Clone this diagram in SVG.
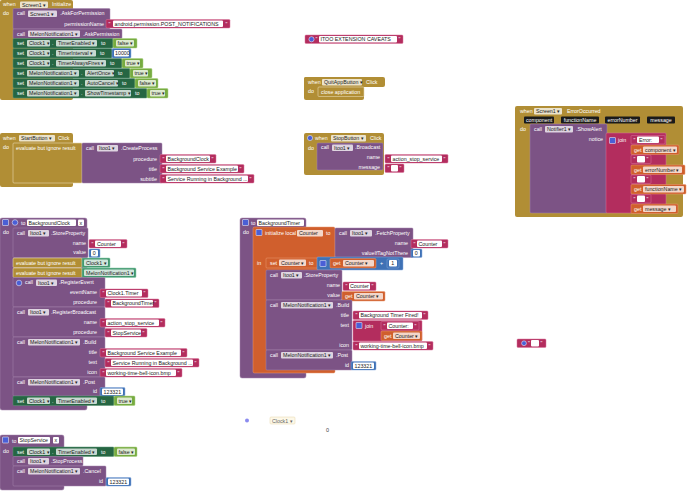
<svg xmlns="http://www.w3.org/2000/svg" width="690" height="491" viewBox="0 0 690 491">
<style>
text{font-family:"Liberation Sans",Arial,sans-serif;font-size:5.3px;fill:#fff}
.k{fill:#222}.e{text-anchor:end}.c{text-anchor:middle}
.ev{fill:#b18e35}
.evi{fill:#b18e35;stroke:#e8d9b0;stroke-width:.6}
.pu{fill:#7c5385;stroke:#a587ad;stroke-width:.5}
.gr{fill:#266643;stroke:#5a9474;stroke-width:.5}
.pk{fill:#b32d5e;stroke:#d8779c;stroke-width:.5}
.bl{fill:#3f71b5;stroke:#86a8dc;stroke-width:.5}
.lg{fill:#77ab41;stroke:#a9d080;stroke-width:.5}
.or{fill:#d05f2d;stroke:#eb9a72;stroke-width:.5}
.tl{fill:#439970;stroke:#86c7a6;stroke-width:.5}
.dd{fill:#fff;fill-opacity:.75}
.fd{fill:#fff}
.bk{fill:#1a1a1a}
.ic{fill:#4a5fd6;stroke:#fff;stroke-width:.5}
</style>
<g id="connectors"/>

<g id="screen1-initialize">
<rect class="ev" x="0" y="0" width="73" height="100" rx="2"/>
<text x="3" y="6">when</text>
<rect class="dd" x="20" y="1.5" width="28" height="6.5" rx="1"/><text class="k" x="22" y="6.5">Screen1 ▾</text>
<text x="52" y="6">Initialize</text>
<text x="3" y="15">do</text>
<rect class="pu" x="13" y="8.5" width="97" height="20.5" rx="1"/>
<text x="17" y="15">call</text>
<rect class="dd" x="28" y="10.5" width="29" height="6.5" rx="1"/><text class="k" x="30" y="15.5">Screen1 ▾</text>
<text x="60" y="15">.AskForPermission</text>
<text class="e" x="104" y="26">permissionName</text>
<rect class="pk" x="106" y="19.5" width="124" height="8.5" rx="1"/>
<text x="108.5" y="25.5">"</text>
<rect class="fd" x="113" y="20.5" width="110" height="6.5" rx="1"/><text class="k" x="114.5" y="25.7">android.permission.POST_NOTIFICATIONS</text>
<text x="225.5" y="25.5">"</text>
<rect class="pu" x="13" y="29" width="109" height="9.5" rx="1"/>
<text x="17" y="35.5">call</text>
<rect class="dd" x="28" y="30.5" width="52" height="6.5" rx="1"/><text class="k" x="30" y="35.5">MelonNotification1 ▾</text>
<text x="83" y="35.5">.AskPermission</text>

<rect class="gr" x="13" y="38.5" width="100" height="9.5" rx="1"/>
<text x="17" y="45">set</text>
<rect class="dd" x="27" y="40" width="23" height="6.5" rx="1"/><text class="k" x="29" y="45">Clock1 ▾</text>
<text x="52" y="45">.</text>
<rect class="dd" x="56" y="40" width="41" height="6.5" rx="1"/><text class="k" x="58" y="45">TimerEnabled ▾</text>
<text x="101" y="45">to</text>
<rect class="lg" x="113" y="38.5" width="24" height="9.5" rx="1"/>
<rect class="dd" x="116" y="40" width="18" height="6.5" rx="1"/><text class="k" x="117.5" y="45">false ▾</text>

<rect class="gr" x="13" y="48.5" width="99" height="9.5" rx="1"/>
<text x="17" y="55">set</text>
<rect class="dd" x="27" y="50" width="23" height="6.5" rx="1"/><text class="k" x="29" y="55">Clock1 ▾</text>
<text x="52" y="55">.</text>
<rect class="dd" x="56" y="50" width="40" height="6.5" rx="1"/><text class="k" x="58" y="55">TimerInterval ▾</text>
<text x="100" y="55">to</text>
<rect class="bl" x="112" y="48.5" width="19" height="9.5" rx="1"/>
<rect class="fd" x="114" y="50" width="15" height="6.5" rx="1"/><text class="k" x="115" y="55">10000</text>

<rect class="gr" x="13" y="58.5" width="109" height="9.5" rx="1"/>
<text x="17" y="65">set</text>
<rect class="dd" x="27" y="60" width="23" height="6.5" rx="1"/><text class="k" x="29" y="65">Clock1 ▾</text>
<text x="52" y="65">.</text>
<rect class="dd" x="56" y="60" width="50" height="6.5" rx="1"/><text class="k" x="58" y="65">TimerAlwaysFires ▾</text>
<text x="110" y="65">to</text>
<rect class="lg" x="122" y="58.5" width="21" height="9.5" rx="1"/>
<rect class="dd" x="125" y="60" width="15" height="6.5" rx="1"/><text class="k" x="126.5" y="65">true ▾</text>

<rect class="gr" x="13" y="68.5" width="117" height="9.5" rx="1"/>
<text x="17" y="75">set</text>
<rect class="dd" x="27" y="70" width="52" height="6.5" rx="1"/><text class="k" x="29" y="75">MelonNotification1 ▾</text>
<text x="81" y="75">.</text>
<rect class="dd" x="85" y="70" width="29" height="6.5" rx="1"/><text class="k" x="87" y="75">AlertOnce ▾</text>
<text x="118" y="75">to</text>
<rect class="lg" x="130" y="68.5" width="22" height="9.5" rx="1"/>
<rect class="dd" x="133" y="70" width="15" height="6.5" rx="1"/><text class="k" x="134.5" y="75">true ▾</text>

<rect class="gr" x="13" y="78.5" width="122" height="9.5" rx="1"/>
<text x="17" y="85">set</text>
<rect class="dd" x="27" y="80" width="52" height="6.5" rx="1"/><text class="k" x="29" y="85">MelonNotification1 ▾</text>
<text x="81" y="85">.</text>
<rect class="dd" x="85" y="80" width="33" height="6.5" rx="1"/><text class="k" x="87" y="85">AutoCancel ▾</text>
<text x="122" y="85">to</text>
<rect class="lg" x="135" y="78.5" width="23" height="9.5" rx="1"/>
<rect class="dd" x="138" y="80" width="18" height="6.5" rx="1"/><text class="k" x="139.5" y="85">false ▾</text>

<rect class="gr" x="13" y="88.5" width="134" height="9.5" rx="1"/>
<text x="17" y="95">set</text>
<rect class="dd" x="27" y="90" width="52" height="6.5" rx="1"/><text class="k" x="29" y="95">MelonNotification1 ▾</text>
<text x="81" y="95">.</text>
<rect class="dd" x="85" y="90" width="46" height="6.5" rx="1"/><text class="k" x="87" y="95">ShowTimestamp ▾</text>
<text x="135" y="95">to</text>
<rect class="lg" x="147" y="88.5" width="21" height="9.5" rx="1"/>
<rect class="dd" x="150" y="90" width="15" height="6.5" rx="1"/><text class="k" x="151.5" y="95">true ▾</text>
</g>

<g id="startbutton-click">
<rect class="ev" x="0" y="133" width="73" height="54" rx="2"/>
<text x="3" y="140">when</text>
<rect class="dd" x="19" y="135" width="36" height="6.5" rx="1"/><text class="k" x="21" y="140">StartButton ▾</text>
<text x="58" y="140">Click</text>
<text x="3" y="149">do</text>
<rect class="evi" x="13" y="143" width="69" height="40" rx="1"/>
<text x="16" y="149.5">evaluate but ignore result</text>
<rect class="pu" x="82" y="143" width="80" height="40" rx="1"/>
<text x="86" y="149.5">call</text>
<rect class="dd" x="97" y="145" width="21" height="6.5" rx="1"/><text class="k" x="99" y="150">Itoo1 ▾</text>
<text x="121" y="149.5">.CreateProcess</text>
<text class="e" x="157" y="160.5">procedure</text>
<text class="e" x="157" y="170.5">title</text>
<text class="e" x="157" y="180.5">subtitle</text>
<rect class="pk" x="160" y="154.5" width="56" height="8.5" rx="1"/><text x="162.5" y="160.5">"</text><rect class="fd" x="166" y="155.5" width="44" height="6.5" rx="1"/><text class="k" x="167.5" y="160.7">BackgroundClock</text><text x="211.5" y="160.5">"</text>
<rect class="pk" x="160" y="164.5" width="84" height="8.5" rx="1"/><text x="162.5" y="170.5">"</text><rect class="fd" x="166" y="165.5" width="72" height="6.5" rx="1"/><text class="k" x="167.5" y="170.7">Background Service Example</text><text x="239.5" y="170.5">"</text>
<rect class="pk" x="160" y="174.5" width="94" height="8.5" rx="1"/><text x="162.5" y="180.5">"</text><rect class="fd" x="166" y="175.5" width="82" height="6.5" rx="1"/><text class="k" x="167.5" y="180.7">Service Running in Background ...</text><text x="249.5" y="180.5">"</text>
</g>

<g id="proc-backgroundclock">
<rect class="pu" x="0" y="218" width="87" height="192" rx="2"/>
<rect class="ic" x="2.5" y="219.5" width="6" height="6" rx=".5"/>
<circle class="ic" cx="15" cy="222.5" r="2.8"/>
<text x="21" y="225">to</text>
<rect class="fd" x="27" y="219.5" width="49" height="6.5" rx="1"/><text class="k" x="28.5" y="224.7">BackgroundClock</text>
<rect class="fd" x="78" y="219.5" width="6" height="6.5" rx="1"/><text class="k" x="79.5" y="224.7">x</text>
<text x="3" y="234">do</text>
<rect class="pu" x="13" y="228" width="75" height="29.5" rx="1"/>
<text x="17" y="234.5">call</text>
<rect class="dd" x="28" y="230" width="21" height="6.5" rx="1"/><text class="k" x="30" y="235">Itoo1 ▾</text>
<text x="51" y="234.5">.StoreProperty</text>
<text class="e" x="86" y="245">name</text>
<text class="e" x="86" y="254">value</text>
<rect class="pk" x="89" y="239.5" width="38" height="8.5" rx="1"/><text x="91.5" y="245.5">"</text><rect class="fd" x="95" y="240.5" width="26" height="6.5" rx="1"/><text class="k" x="97" y="245.7">Counter</text><text x="122.5" y="245.5">"</text>
<rect class="bl" x="89" y="249" width="11" height="8.5" rx="1"/><rect class="fd" x="91" y="250" width="7" height="6.5" rx="1"/><text class="k" x="92.8" y="255.2">0</text>
<rect class="evi" x="13" y="258" width="69" height="9.5" rx="1"/><text x="16" y="264.5">evaluate but ignore result</text>
<rect class="tl" x="82" y="258" width="28" height="9.5" rx="1"/><rect class="dd" x="84" y="259.5" width="24" height="6.5" rx="1"/><text class="k" x="86" y="264.5">Clock1 ▾</text>
<rect class="evi" x="13" y="268" width="69" height="9.5" rx="1"/><text x="16" y="274.5">evaluate but ignore result</text>
<rect class="tl" x="82" y="268" width="54" height="9.5" rx="1"/><rect class="dd" x="84" y="269.5" width="50" height="6.5" rx="1"/><text class="k" x="86" y="274.5">MelonNotification1 ▾</text>
<rect class="pu" x="13" y="277.5" width="92" height="29.5" rx="1"/>
<circle class="ic" cx="19" cy="283" r="2.8"/>
<text x="25" y="284">call</text>
<rect class="dd" x="36" y="279.5" width="21" height="6.5" rx="1"/><text class="k" x="38" y="284.5">Itoo1 ▾</text>
<text x="59" y="284">.RegisterEvent</text>
<text class="e" x="97" y="294">eventName</text>
<text class="e" x="97" y="304">procedure</text>
<rect class="pk" x="100" y="289" width="48" height="8.5" rx="1"/><text x="102.5" y="295">"</text><rect class="fd" x="106" y="290" width="36" height="6.5" rx="1"/><text class="k" x="107.5" y="295.2">Clock1.Timer</text><text x="143.5" y="295">"</text>
<rect class="pk" x="105" y="299" width="54" height="8.5" rx="1"/><text x="107.5" y="305">"</text><rect class="fd" x="111" y="300" width="42" height="6.5" rx="1"/><text class="k" x="112.5" y="305.2">BackgroundTimer</text><text x="154.5" y="305">"</text>
<rect class="pu" x="13" y="307" width="92" height="30" rx="1"/>
<text x="17" y="313.5">call</text>
<rect class="dd" x="28" y="309" width="21" height="6.5" rx="1"/><text class="k" x="30" y="314">Itoo1 ▾</text>
<text x="51" y="313.5">.RegisterBroadcast</text>
<text class="e" x="97" y="324">name</text>
<text class="e" x="97" y="334">procedure</text>
<rect class="pk" x="100" y="318.5" width="65" height="8.5" rx="1"/><text x="102.5" y="324.5">"</text><rect class="fd" x="106" y="319.5" width="53" height="6.5" rx="1"/><text class="k" x="107.5" y="324.7">action_stop_service</text><text x="160.5" y="324.5">"</text>
<rect class="pk" x="105" y="328.5" width="42" height="8.5" rx="1"/><text x="107.5" y="334.5">"</text><rect class="fd" x="111" y="329.5" width="30" height="6.5" rx="1"/><text class="k" x="112.5" y="334.7">StopService</text><text x="142.5" y="334.5">"</text>
<rect class="pu" x="13" y="337" width="92" height="40" rx="1"/>
<text x="17" y="343.5">call</text>
<rect class="dd" x="28" y="339" width="52" height="6.5" rx="1"/><text class="k" x="30" y="344">MelonNotification1 ▾</text>
<text x="83" y="343.5">.Build</text>
<text class="e" x="97" y="353.5">title</text>
<text class="e" x="97" y="363.5">text</text>
<text class="e" x="97" y="373.5">icon</text>
<rect class="pk" x="100" y="348.5" width="87" height="8.5" rx="1"/><text x="102.5" y="354.5">"</text><rect class="fd" x="106" y="349.5" width="75" height="6.5" rx="1"/><text class="k" x="107.5" y="354.7">Background Service Example</text><text x="182.5" y="354.5">"</text>
<rect class="pk" x="105" y="358.5" width="94" height="8.5" rx="1"/><text x="107.5" y="364.5">"</text><rect class="fd" x="111" y="359.5" width="82" height="6.5" rx="1"/><text class="k" x="112.5" y="364.7">Service Running in Background ...</text><text x="194.5" y="364.5">"</text>
<rect class="pk" x="100" y="368.5" width="82" height="8.5" rx="1"/><text x="102.5" y="374.5">"</text><rect class="fd" x="106" y="369.5" width="70" height="6.5" rx="1"/><text class="k" x="107.5" y="374.7">working-time-bell-icon.bmp</text><text x="177.5" y="374.5">"</text>
<rect class="pu" x="13" y="377" width="92" height="19" rx="1"/>
<text x="17" y="383.5">call</text>
<rect class="dd" x="28" y="379" width="52" height="6.5" rx="1"/><text class="k" x="30" y="384">MelonNotification1 ▾</text>
<text x="83" y="383.5">.Post</text>
<text class="e" x="97" y="393">id</text>
<rect class="bl" x="100" y="387.5" width="25" height="8.5" rx="1"/><rect class="fd" x="102" y="388.5" width="21" height="6.5" rx="1"/><text class="k" x="103.5" y="393.7">123321</text>
<rect class="gr" x="13" y="396" width="101" height="9.5" rx="1"/>
<text x="17" y="402.5">set</text>
<rect class="dd" x="27" y="397.5" width="23" height="6.5" rx="1"/><text class="k" x="29" y="402.5">Clock1 ▾</text>
<text x="52" y="402.5">.</text>
<rect class="dd" x="56" y="397.5" width="41" height="6.5" rx="1"/><text class="k" x="58" y="402.5">TimerEnabled ▾</text>
<text x="101" y="402.5">to</text>
<rect class="lg" x="114" y="396" width="21" height="9.5" rx="1"/>
<rect class="dd" x="117" y="397.5" width="15" height="6.5" rx="1"/><text class="k" x="118.5" y="402.5">true ▾</text>
</g>

<g id="proc-stopservice">
<rect class="pu" x="0" y="435" width="64" height="55" rx="2"/>
<rect class="ic" x="2.5" y="437" width="6" height="6" rx=".5"/>
<text x="12" y="442.5">to</text>
<rect class="fd" x="18" y="437" width="32" height="6.5" rx="1"/><text class="k" x="19.5" y="442.2">StopService</text>
<rect class="fd" x="53" y="437" width="6" height="6.5" rx="1"/><text class="k" x="54.5" y="442.2">x</text>
<text x="3" y="453">do</text>
<rect class="gr" x="13" y="447" width="101" height="9.5" rx="1"/>
<text x="17" y="453.5">set</text>
<rect class="dd" x="27" y="448.5" width="23" height="6.5" rx="1"/><text class="k" x="29" y="453.5">Clock1 ▾</text>
<text x="52" y="453.5">.</text>
<rect class="dd" x="56" y="448.5" width="41" height="6.5" rx="1"/><text class="k" x="58" y="453.5">TimerEnabled ▾</text>
<text x="101" y="453.5">to</text>
<rect class="lg" x="114" y="447" width="23" height="9.5" rx="1"/>
<rect class="dd" x="117" y="448.5" width="18" height="6.5" rx="1"/><text class="k" x="118.5" y="453.5">false ▾</text>
<rect class="pu" x="13" y="456.5" width="70" height="9.5" rx="1"/>
<text x="17" y="463">call</text>
<rect class="dd" x="28" y="458" width="21" height="6.5" rx="1"/><text class="k" x="30" y="463">Itoo1 ▾</text>
<text x="51" y="463">.StopProcess</text>
<rect class="pu" x="13" y="466" width="93" height="20" rx="1"/>
<text x="17" y="472.5">call</text>
<rect class="dd" x="28" y="468" width="52" height="6.5" rx="1"/><text class="k" x="30" y="473">MelonNotification1 ▾</text>
<text x="83" y="472.5">.Cancel</text>
<text class="e" x="103" y="483">id</text>
<rect class="bl" x="106" y="477.5" width="25" height="8.5" rx="1"/><rect class="fd" x="108" y="478.5" width="21" height="6.5" rx="1"/><text class="k" x="109.5" y="483.7">123321</text>
</g>

<g id="proc-backgroundtimer">
<rect class="pu" x="240" y="218" width="66" height="160" rx="2"/>
<rect class="ic" x="242.5" y="219.5" width="6" height="6" rx=".5"/>
<text x="251" y="225">to</text>
<rect class="fd" x="257" y="219.5" width="47" height="6.5" rx="1"/><text class="k" x="258.5" y="224.7">BackgroundTimer</text>
<text x="243" y="234">do</text>
<rect class="or" x="253" y="227" width="82" height="146" rx="1.5"/>
<rect class="ic" x="256" y="229.5" width="6" height="6" rx=".5"/>
<text x="265" y="235">initialize local</text>
<rect class="dd" x="297" y="230" width="26" height="6.5" rx="1"/><text class="k" x="299" y="235">Counter</text>
<text x="326" y="235">to</text>
<rect class="pu" x="335" y="228" width="78" height="29.5" rx="1"/>
<text x="339" y="234.5">call</text>
<rect class="dd" x="350" y="230" width="22" height="6.5" rx="1"/><text class="k" x="352" y="235">Itoo1 ▾</text>
<text x="375" y="234.5">.FetchProperty</text>
<text class="e" x="408" y="245">name</text>
<text class="e" x="408" y="255">valueIfTagNotThere</text>
<rect class="pk" x="411" y="239.5" width="37" height="8.5" rx="1"/><text x="413.5" y="245.5">"</text><rect class="fd" x="417" y="240.5" width="25" height="6.5" rx="1"/><text class="k" x="418.5" y="245.7">Counter</text><text x="443.5" y="245.5">"</text>
<rect class="bl" x="411" y="249" width="11" height="8.5" rx="1"/><rect class="fd" x="413" y="250" width="7" height="6.5" rx="1"/><text class="k" x="414.8" y="255.2">0</text>
<text x="257" y="265">in</text>
<rect class="or" x="266" y="258" width="52" height="10" rx="1"/>
<text x="270" y="264.5">set</text>
<rect class="dd" x="279" y="259.5" width="27" height="6.5" rx="1"/><text class="k" x="281" y="264.5">Counter ▾</text>
<text x="309" y="264.5">to</text>
<rect class="bl" x="317" y="257" width="86" height="13" rx="1"/>
<rect class="ic" x="320" y="260.5" width="6" height="6" rx=".5"/>
<rect class="or" x="330" y="258.5" width="46" height="9.5" rx="1"/>
<text x="333" y="265">get</text>
<rect class="dd" x="343" y="260" width="31" height="6.5" rx="1"/><text class="k" x="345" y="265">Counter ▾</text>
<text x="380" y="265">+</text>
<rect class="bl" x="387" y="259" width="12" height="9" rx="1"/><rect class="fd" x="389" y="260" width="8" height="6.5" rx="1"/><text class="k" x="391.3" y="265.2">1</text>
<rect class="pu" x="266" y="270" width="76" height="30" rx="1"/>
<text x="270" y="276.5">call</text>
<rect class="dd" x="281" y="272" width="21" height="6.5" rx="1"/><text class="k" x="283" y="277">Itoo1 ▾</text>
<text x="304" y="276.5">.StoreProperty</text>
<text class="e" x="340" y="287">name</text>
<text class="e" x="340" y="297">value</text>
<rect class="pk" x="343" y="282" width="33" height="8.5" rx="1"/><text x="345.5" y="288">"</text><rect class="fd" x="349" y="283" width="21" height="6.5" rx="1"/><text class="k" x="350" y="288.2">Counter</text><text x="371.5" y="288">"</text>
<rect class="or" x="342" y="291.5" width="43" height="9.5" rx="1"/>
<text x="345" y="298">get</text>
<rect class="dd" x="354" y="293" width="29" height="6.5" rx="1"/><text class="k" x="356" y="298">Counter ▾</text>
<rect class="pu" x="266" y="300" width="86" height="50" rx="1"/>
<text x="270" y="306.5">call</text>
<rect class="dd" x="281" y="302" width="52" height="6.5" rx="1"/><text class="k" x="283" y="307">MelonNotification1 ▾</text>
<text x="336" y="306.5">.Build</text>
<text class="e" x="349" y="317">title</text>
<text class="e" x="349" y="327">text</text>
<text class="e" x="349" y="347">icon</text>
<rect class="pk" x="353" y="311" width="75" height="8.5" rx="1"/><text x="355.5" y="317">"</text><rect class="fd" x="359" y="312" width="63" height="6.5" rx="1"/><text class="k" x="360.5" y="317.2">Background Timer Fired!</text><text x="423.5" y="317">"</text>
<rect class="pk" x="353" y="320.5" width="69" height="20.5" rx="1"/>
<rect class="ic" x="356" y="322.5" width="6" height="6" rx=".5"/>
<text x="365" y="328">join</text>
<rect class="pk" x="381" y="321.5" width="38" height="8.5" rx="1"/><text x="383.5" y="327.5">"</text><rect class="fd" x="387" y="322.5" width="26" height="6.5" rx="1"/><text class="k" x="388.5" y="327.7">Counter: </text><text x="414.5" y="327.5">"</text>
<rect class="or" x="381" y="331" width="41" height="9.5" rx="1"/>
<text x="384" y="337.5">get</text>
<rect class="dd" x="393" y="332.5" width="27" height="6.5" rx="1"/><text class="k" x="395" y="337.5">Counter ▾</text>
<rect class="pk" x="353" y="341.5" width="80" height="8.5" rx="1"/><text x="355.5" y="347.5">"</text><rect class="fd" x="359" y="342.5" width="68" height="6.5" rx="1"/><text class="k" x="360.5" y="347.7">working-time-bell-icon.bmp</text><text x="428.5" y="347.5">"</text>
<rect class="pu" x="266" y="350" width="86" height="20" rx="1"/>
<text x="270" y="356.5">call</text>
<rect class="dd" x="281" y="352" width="52" height="6.5" rx="1"/><text class="k" x="283" y="357">MelonNotification1 ▾</text>
<text x="336" y="356.5">.Post</text>
<text class="e" x="349" y="367">id</text>
<rect class="bl" x="351" y="361.5" width="25" height="8.5" rx="1"/><rect class="fd" x="353" y="362.5" width="21" height="6.5" rx="1"/><text class="k" x="354.5" y="367.7">123321</text>
</g>

<g id="caveats">
<rect class="pk" x="305" y="35" width="98" height="8.5" rx="1"/>
<circle class="ic" cx="311.5" cy="39.25" r="2.6"/>
<text x="315.5" y="41">"</text>
<rect class="fd" x="319" y="36" width="78" height="6.5" rx="1"/><text class="k" x="320.5" y="41.2">ITOO EXTENSION CAVEATS</text>
<text x="398.5" y="41">"</text>
</g>

<g id="quitappbutton-click">
<rect class="ev" x="304" y="77" width="81" height="10" rx="2"/>
<rect class="ev" x="304" y="77" width="60" height="23" rx="2"/>
<text x="308" y="83.5">when</text>
<rect class="dd" x="322" y="79" width="40" height="6.5" rx="1"/><text class="k" x="324" y="84">QuitAppButton ▾</text>
<text x="366" y="83.5">Click</text>
<text x="308" y="93">do</text>
<rect class="evi" x="318" y="87" width="46" height="9.5" rx="1"/>
<text x="321" y="93.5">close application</text>
</g>

<g id="stopbutton-click">
<rect class="ev" x="304" y="133" width="80" height="42" rx="2"/>
<circle class="ic" cx="310" cy="138" r="2.6"/>
<text x="315" y="140">when</text>
<rect class="dd" x="331" y="135" width="35" height="6.5" rx="1"/><text class="k" x="333" y="140">StopButton ▾</text>
<text x="370" y="140">Click</text>
<text x="308" y="150">do</text>
<rect class="pu" x="317" y="143" width="66" height="27" rx="1"/>
<text x="321" y="149">call</text>
<rect class="dd" x="332" y="144.5" width="21" height="6.5" rx="1"/><text class="k" x="334" y="149.5">Itoo1 ▾</text>
<text x="355" y="149">.Broadcast</text>
<text class="e" x="380" y="159">name</text>
<text class="e" x="380" y="169">message</text>
<rect class="pk" x="385" y="154.5" width="63" height="8.5" rx="1"/><text x="387.5" y="160.5">"</text><rect class="fd" x="391" y="155.5" width="51" height="6.5" rx="1"/><text class="k" x="392.5" y="160.7">action_stop_service</text><text x="443.5" y="160.5">"</text>
<rect class="pk" x="385" y="164" width="19" height="8.5" rx="1"/><text x="387.5" y="170">"</text><rect class="fd" x="391" y="165" width="7" height="6.5" rx="1"/><text x="399.5" y="170">"</text>
</g>

<g id="screen1-erroroccurred">
<rect class="ev" x="515" y="106" width="168" height="111" rx="2"/>
<text x="520" y="112.5">when</text>
<rect class="dd" x="534" y="108" width="28" height="6.5" rx="1"/><text class="k" x="536" y="113">Screen1 ▾</text>
<text x="567" y="112.5">ErrorOccurred</text>
<rect class="bk" x="524" y="116.5" width="30" height="7" rx="1"/><text class="c" x="539" y="121.8">component</text>
<rect class="bk" x="561" y="116.5" width="38" height="7" rx="1"/><text class="c" x="580" y="121.8">functionName</text>
<rect class="bk" x="605" y="116.5" width="35" height="7" rx="1"/><text class="c" x="622.5" y="121.8">errorNumber</text>
<rect class="bk" x="647" y="116.5" width="28" height="7" rx="1"/><text class="c" x="661" y="121.8">message</text>
<text x="520" y="131">do</text>
<rect class="pu" x="530" y="124" width="77" height="89" rx="1"/>
<text x="534" y="130.5">call</text>
<rect class="dd" x="545" y="126" width="28" height="6.5" rx="1"/><text class="k" x="547" y="131">Notifier1 ▾</text>
<text x="576" y="130.5">.ShowAlert</text>
<text class="e" x="603" y="141">notice</text>
<rect class="pk" x="606" y="133" width="60" height="80" rx="1"/>
<rect class="ic" x="609.5" y="137.5" width="6" height="6" rx=".5"/>
<text x="618" y="142">join</text>
<rect class="pk" x="631" y="135.5" width="34" height="8.5" rx="1"/><text x="633.5" y="141.5">"</text><rect class="fd" x="637" y="136.5" width="22" height="6.5" rx="1"/><text class="k" x="639" y="141.7">Error: </text><text x="660.5" y="141.5">"</text>
<rect class="or" x="631" y="145" width="48" height="9.5" rx="1"/><text x="634" y="151.5">get</text><rect class="dd" x="643" y="146.5" width="34" height="6.5" rx="1"/><text class="k" x="645" y="151.5">component ▾</text>
<rect class="pk" x="631" y="155" width="20" height="8.5" rx="1"/><text x="633.5" y="161">"</text><rect class="fd" x="637" y="156" width="8" height="6.5" rx="1"/><text x="646.5" y="161">"</text>
<rect class="or" x="631" y="165" width="54" height="9.5" rx="1"/><text x="634" y="171.5">get</text><rect class="dd" x="643" y="166.5" width="39" height="6.5" rx="1"/><text class="k" x="645" y="171.5">errorNumber ▾</text>
<rect class="pk" x="631" y="175" width="20" height="8.5" rx="1"/><text x="633.5" y="181">"</text><rect class="fd" x="637" y="176" width="8" height="6.5" rx="1"/><text x="646.5" y="181">"</text>
<rect class="or" x="631" y="184.5" width="55" height="9.5" rx="1"/><text x="634" y="191">get</text><rect class="dd" x="643" y="186" width="41" height="6.5" rx="1"/><text class="k" x="645" y="191">functionName ▾</text>
<rect class="pk" x="631" y="194.5" width="20" height="8.5" rx="1"/><text x="633.5" y="200.5">"</text><rect class="fd" x="637" y="195.5" width="8" height="6.5" rx="1"/><text x="646.5" y="200.5">"</text>
<rect class="or" x="631" y="204" width="47" height="9.5" rx="1"/><text x="634" y="210.5">get</text><rect class="dd" x="643" y="205.5" width="33" height="6.5" rx="1"/><text class="k" x="645" y="210.5">message ▾</text>
</g>

<g id="stray-text">
<rect class="pk" x="517" y="339" width="29" height="8.5" rx="1"/>
<circle class="ic" cx="524" cy="343.25" r="2.4"/>
<text x="528" y="345">"</text>
<rect class="fd" x="531" y="340" width="8" height="6.5" rx="1"/>
<text x="540.5" y="345">"</text>
</g>

<g id="faded-clock-event">
<circle cx="247" cy="420.5" r="2" fill="#8b8bef"/>
<rect x="270" y="417" width="25" height="7" rx="1" fill="#fdf8e8" stroke="#e6d7a8" stroke-width=".5"/>
<text x="272" y="422.5" style="fill:#666">Clock1 ▾</text>
<text x="326" y="432" style="fill:#444;font-size:5.5px">0</text>
</g>
</svg>
